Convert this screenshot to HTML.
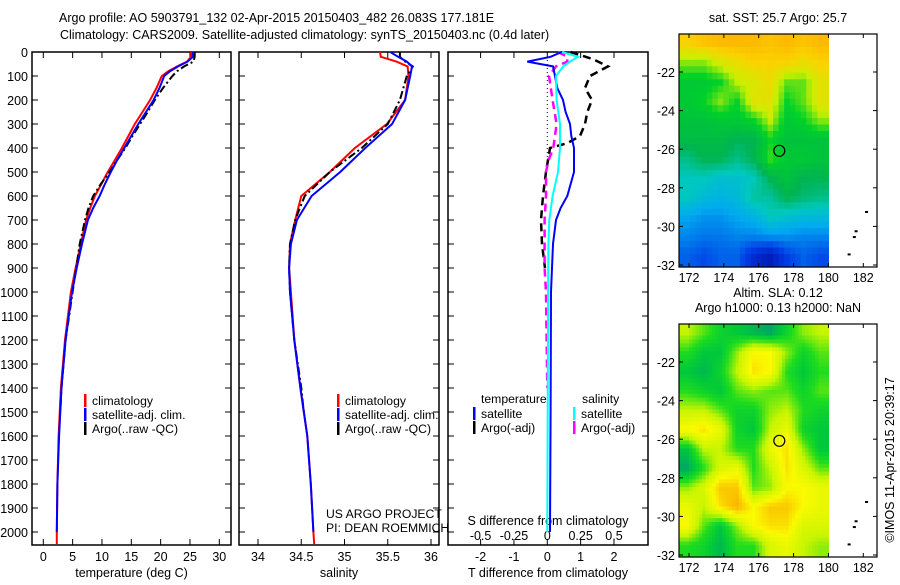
<!DOCTYPE html>
<html><head><meta charset="utf-8">
<style>
body{margin:0;background:#fff;width:900px;height:580px;overflow:hidden}
svg{font-family:"Liberation Sans",sans-serif;font-size:12.5px}
.lg{font-size:12.2px}
</style></head>
<body>
<svg id="fig" width="900" height="580" xmlns="http://www.w3.org/2000/svg">
<text x="59" y="22">Argo profile: AO 5903791_132 02-Apr-2015 20150403_482 26.083S 177.181E</text>
<text x="60" y="39">Climatology: CARS2009. Satellite-adjusted climatology: synTS_20150403.nc (0.4d later)</text>
<g id="g"></g>
</svg>
<script>
const depthTicks=[0,100,200,300,400,500,600,700,800,900,1000,1100,1200,1300,1400,1500,1600,1700,1800,1900,2000];
const tempTicks=[0,5,10,15,20,25,30];
const salTicks=[34,34.5,35,35.5,36];
const salTickLabels=["34","34.5","35","35.5","36"];
const tdTicks=[-2,-1,0,1,2];
const sdTicks=[-0.5,-0.25,0,0.25,0.5];
const sdTickLabels=["-0.5","-0.25","0","0.25","0.5"];
const tClimDepth=[0,20,40,60,80,100,150,200,250,300,350,400,450,500,550,600,650,700,800,900,1000,1200,1400,1600,1800,2000,2050];
const tClim=[25.2,25.2,24.5,22.8,21.3,20.2,19.3,18.2,16.9,15.6,14.5,13.4,12.2,11.0,9.9,8.8,8.0,7.3,6.4,5.5,4.7,3.7,3.0,2.6,2.4,2.3,2.3];
const tSatDepth=[0,20,40,60,80,100,150,200,250,300,350,400,450,500,550,600,650,700,800,900,1000,1200,1400,1600,1800,2000];
const tSat=[25.5,25.5,24.6,23.0,21.6,20.6,19.8,18.8,17.5,16.2,15.0,13.8,12.6,11.5,10.5,9.6,8.5,7.6,6.6,5.7,4.9,3.8,3.1,2.7,2.4,2.3];
const tArgoDepth=[0,20,40,60,80,100,150,200,250,300,350,400,450,500,550,600,650,700,800,900,1000,1200,1400,1500];
const tArgo=[25.8,25.8,25.6,24.0,22.8,22.0,20.4,19.0,17.8,16.5,15.2,14.0,12.6,11.3,9.8,8.5,7.7,7.1,6.2,5.6,5.0,3.8,3.1,2.9];
const sClimDepth=[0,20,40,60,100,200,300,400,500,600,700,800,900,1000,1200,1400,1600,1800,2000,2050];
const sClim=[35.41,35.42,35.6,35.73,35.74,35.7,35.49,35.12,34.83,34.5,34.43,34.37,34.36,34.38,34.42,34.49,34.57,34.61,34.64,34.65];
const sSatDepth=[0,20,40,60,100,200,300,400,500,600,700,800,900,1000,1200,1400,1600,1800,2000];
const sSat=[35.53,35.62,35.72,35.78,35.76,35.7,35.55,35.24,34.95,34.62,34.45,34.38,34.36,34.37,34.42,34.49,34.57,34.61,34.64];
const sArgoDepth=[0,20,40,60,100,200,300,400,500,600,700,800,900,1000,1200,1400,1500];
const sArgo=[35.64,35.64,35.7,35.79,35.72,35.64,35.5,35.2,34.83,34.54,34.43,34.37,34.36,34.37,34.42,34.5,34.53];
const dTSatDepth=[0,20,40,60,100,150,200,250,300,350,400,500,600,650,700,800,1000,1500,2000];
const dTSat=[0.43,0.1,-0.6,0.17,0.23,0.3,0.47,0.55,0.68,0.72,0.8,0.8,0.6,0.4,0.26,0.17,0.11,0.1,0.08];
const dTArgoDepth=[0,30,60,100,150,200,250,300,350,380,400,500,600,700,800,900];
const dTArgo=[0.7,1.37,1.82,1.28,1.13,1.34,1.2,1.13,0.98,0.6,0.08,-0.04,-0.13,-0.19,-0.16,-0.07];
const dSSatDepth=[0,20,40,60,100,200,300,400,500,600,700,800,1000,1500,2000];
const dSSat=[0.11,0.23,0.17,0.12,0.065,0.07,0.095,0.095,0.08,0.04,0.015,0.008,0.006,0.003,0];
const dSArgoDepth=[0,20,40,60,100,200,300,400,450,500,600,700,800,900,1000,1400];
const dSArgo=[0.08,0.15,0.15,0.065,0.013,0.04,0.07,0.045,0.01,-0.01,-0.01,-0.02,-0.02,-0.02,-0.01,0];
const mapLonTicks=[172,174,176,178,180,182];
const mapLatTicks=[22,24,26,28,30,32];
const sstGrid=[
[0.85,0.88,0.9,0.9,0.9,0.88,0.9,0.88,0.9],
[0.72,0.72,0.78,0.82,0.85,0.85,0.85,0.82,0.85],
[0.62,0.62,0.65,0.75,0.78,0.82,0.7,0.7,0.8],
[0.62,0.65,0.72,0.65,0.8,0.8,0.65,0.7,0.8],
[0.6,0.6,0.62,0.62,0.65,0.75,0.62,0.65,0.72],
[0.58,0.58,0.58,0.55,0.55,0.65,0.6,0.6,0.6],
[0.5,0.55,0.55,0.5,0.55,0.68,0.62,0.62,0.6],
[0.45,0.45,0.42,0.42,0.45,0.55,0.6,0.55,0.55],
[0.45,0.4,0.38,0.4,0.48,0.48,0.55,0.52,0.5],
[0.35,0.32,0.32,0.35,0.38,0.45,0.42,0.4,0.4],
[0.3,0.28,0.28,0.3,0.3,0.32,0.32,0.3,0.3],
[0.25,0.22,0.25,0.25,0.15,0.1,0.2,0.25,0.22]];
const slaGrid=[
[0.6,0.4,0.2,0.1,0.0,-0.1,0.2,0.5,0.6],
[0.3,0.1,0.1,0.5,0.9,0.9,0.5,0.2,0.4],
[0.1,0.0,0.2,0.6,1.0,0.9,0.3,0.1,0.3],
[0.3,0.2,0.1,0.4,0.5,0.4,0.4,0.2,0.4],
[0.6,0.6,0.4,0.2,0.2,0.5,0.6,0.3,0.2],
[0.9,1.0,0.8,0.2,0.1,0.6,0.8,0.2,0.1],
[0.1,0.6,0.6,0.3,0.3,0.8,1.0,0.5,0.1],
[-0.1,0.3,0.7,0.8,0.3,0.6,1.0,0.7,0.4],
[0.5,0.7,1.1,1.1,0.4,0.5,0.9,0.9,0.8],
[0.8,0.6,1.0,1.2,0.9,1.1,1.1,0.9,0.8],
[0.9,0.4,0.1,0.5,0.9,1.0,1.0,0.7,0.7],
[0.3,0.2,0.0,0.3,0.3,0.7,0.8,0.6,0.5]];
const argoLon=177.181, argoLat=26.083;

const NS="http://www.w3.org/2000/svg";
const G=document.getElementById('g');
function mk(tag,attrs,parent){const e=document.createElementNS(NS,tag);for(const k in attrs)e.setAttribute(k,attrs[k]);(parent||G).appendChild(e);return e;}
function txt(x,y,s,anchor,parent){const t=mk('text',{x:x,y:y,'text-anchor':anchor||'start'},parent);t.textContent=s;return t;}
const Y=d=>52+d*0.24;
const PB=545;
const xT=v=>43.3+v*5.867;
const xS=v=>258+(v-34)*86.5;
const xD=v=>547.3+v*33.35;
const xSD=v=>547.3+v*133.4;

function panel(name,x0,x1,xs,ticks,labels,title,showDepth){
  const r=mk('rect',{x:x0,y:52,width:x1-x0,height:PB-52,fill:'none',stroke:'#000','stroke-width':1.5});
  
  
  depthTicks.forEach(d=>{
    mk('line',{x1:x0,x2:x0+6,y1:Y(d),y2:Y(d),stroke:'#000'});
    mk('line',{x1:x1-6,x2:x1,y1:Y(d),y2:Y(d),stroke:'#000'});
    if(showDepth){const t=txt(28,Y(d)+5,String(d),'end');
      
      }
  });
  ticks.forEach((v,i)=>{
    const x=xs(v);
    mk('line',{x1:x,x2:x,y1:PB,y2:PB-6,stroke:'#000'});
    mk('line',{x1:x,x2:x,y1:52,y2:58,stroke:'#000'});
    if(labels){const t=txt(x,561,labels[i],'middle');
      
      }
  });
  if(title){const t=txt((x0+x1)/2,577,title,'middle');
    
    }
}
function line(name,depths,vals,xs,color,dash,w){
  const pts=depths.map((d,i)=>xs(vals[i]).toFixed(1)+','+Y(d).toFixed(1)).join(' ');
  const p=mk('polyline',{points:pts,fill:'none',stroke:color,'stroke-width':w||2,'stroke-dasharray':dash||'none'});
  
  
}
panel('temperature',32,231,xT,tempTicks,tempTicks.map(String),'temperature (deg C)',true);
panel('salinity',239,439,xS,salTicks,salTickLabels,'salinity',false);
panel('difference',448,648,xD,tdTicks,tdTicks.map(String),'T difference from climatology',false);
sdTicks.forEach((v,i)=>{const t=txt(xSD(v),540,sdTickLabels[i],'middle');
  
  });
{const t=txt(548,525,'S difference from climatology','middle');}

line('temp-climatology-line',tClimDepth,tClim,xT,'#f00');
line('temp-argo-line',tArgoDepth,tArgo,xT,'#000','8,3,2,3');
line('temp-satellite-line',tSatDepth,tSat,xT,'#00f');
line('sal-climatology-line',sClimDepth,sClim,xS,'#f00');
line('sal-argo-line',sArgoDepth,sArgo,xS,'#000','8,3,2,3');
line('sal-satellite-line',sSatDepth,sSat,xS,'#00f');
{const z=mk('line',{x1:xD(0),x2:xD(0),y1:52,y2:Y(500),stroke:'#000','stroke-dasharray':'1,3'});}
line('dT-argo-line',dTArgoDepth,dTArgo,xD,'#000','8,5',2.5);
line('dS-argo-line',dSArgoDepth,dSArgo,xSD,'#f0f','8,5',2.5);
line('dT-satellite-line',dTSatDepth,dTSat,xD,'#00f');
line('dS-satellite-line',dSSatDepth,dSSat,xSD,'#0ff','none',2);

function legendItem(x,y,color,label,name){
  const g=mk('g',{class:'lg'});
  
  
  mk('rect',{x:x,y:y-10,width:2.5,height:13,fill:color},g);
  txt(x+8,y+1,label,'start',g);
}
legendItem(84,404,'#f00','climatology','legend-temp-climatology');
legendItem(84,418,'#00f','satellite-adj. clim.','legend-temp-satellite');
legendItem(84,432,'#000','Argo(..raw -QC)','legend-temp-argo');
legendItem(337,404,'#f00','climatology','legend-sal-climatology');
legendItem(337,418,'#00f','satellite-adj. clim.','legend-sal-satellite');
legendItem(337,432,'#000','Argo(..raw -QC)','legend-sal-argo');
{const t=txt(481,403,'temperature');t.setAttribute('class','lg');}
{const t=txt(582,403,'salinity');t.setAttribute('class','lg');}
legendItem(473,417,'#00f','satellite','legend-dT-satellite');
legendItem(473,431,'#000','Argo(-adj)','legend-dT-argo');
legendItem(573,417,'#0ff','satellite','legend-dS-satellite');
legendItem(573,431,'#f0f','Argo(-adj)','legend-dS-argo');
{const t=txt(326,518,'US ARGO PROJECT');t.setAttribute('class','lg');}
{const t=txt(326,532,'PI: DEAN ROEMMICH');t.setAttribute('class','lg');}

function jet(v){const stops=[[0,[0,0,140]],[0.2,[0,60,230]],[0.35,[0,170,240]],[0.45,[0,200,190]],[0.55,[0,180,80]],[0.65,[0,210,40]],[0.75,[200,240,0]],[0.85,[250,210,0]],[0.95,[255,160,0]],[1,[255,120,0]]];return interp(stops,v);}
function slaC(v){const stops=[[-0.2,[0,150,120]],[0.1,[0,200,60]],[0.3,[30,220,30]],[0.6,[200,245,0]],[0.9,[250,250,0]],[1.1,[250,200,0]],[1.3,[250,160,0]]];return interp(stops,v);}
function interp(stops,v){if(v<=stops[0][0])return 'rgb('+stops[0][1]+')';for(let i=1;i<stops.length;i++){if(v<=stops[i][0]){const a=stops[i-1],b=stops[i],t=(v-a[0])/(b[0]-a[0]);return 'rgb('+a[1].map((c,k)=>Math.round(c+(b[1][k]-c)*t)).join(',')+')';}}return 'rgb('+stops[stops.length-1][1]+')';}
function sample(grid,fi,fj){
  const R=grid.length,C=grid[0].length;
  fi=Math.max(0,Math.min(R-1,fi));fj=Math.max(0,Math.min(C-1,fj));
  const i0=Math.floor(fi),j0=Math.floor(fj),i1=Math.min(R-1,i0+1),j1=Math.min(C-1,j0+1),a=fi-i0,b=fj-j0;
  return grid[i0][j0]*(1-a)*(1-b)+grid[i1][j0]*a*(1-b)+grid[i0][j1]*(1-a)*b+grid[i1][j1]*a*b;
}
function map(name,top,grid,cfn,titles,sub){
  const lonX=l=>689+(l-172)*17.43;
  const latY=l=>top+38+(l-22)*19.3;
  const bot=top+233;
  const x0=679,xe=lonX(180);
  const R=grid.length,C=grid[0].length;
  const nr=R*sub,nc=C*sub;
  const cw=(xe-x0)/nc, rh=(bot-top)/nr;
  const yTop=latY(20);
  for(let i=0;i<nr;i++)for(let j=0;j<nc;j++){
    const y=top+i*rh;
    const fi=(y+rh/2-yTop)/((latY(32)-yTop)/R)-0.5;
    const fj=(j+0.5)/sub-0.5;
    const c=mk('rect',{x:(x0+j*cw).toFixed(2),y:y.toFixed(2),width:(cw+0.6).toFixed(2),height:(rh+0.6).toFixed(2),fill:cfn(sample(grid,fi,fj))});
    
    
  }
  const r=mk('rect',{x:679,y:top,width:198,height:233,fill:'none',stroke:'#000','stroke-width':1.2});
  
  
  mapLonTicks.forEach(l=>{const x=lonX(l);mk('line',{x1:x,x2:x,y1:top,y2:top+4,stroke:'#000'});mk('line',{x1:x,x2:x,y1:bot,y2:bot-4,stroke:'#000'});
    const t=txt(x,bot+15,String(l),'middle');});
  mapLatTicks.forEach(l=>{const y=latY(l);mk('line',{x1:679,x2:683,y1:y,y2:y,stroke:'#000'});mk('line',{x1:877,x2:873,y1:y,y2:y,stroke:'#000'});
    const t=txt(675,y+5,'-'+l,'end');});
  const c=mk('circle',{cx:lonX(argoLon),cy:latY(argoLat),r:5.5,fill:'none',stroke:'#000','stroke-width':1.2});
  
  
  [[182.1,29.2],[181.5,30.2],[181.4,30.5],[181.1,31.4]].forEach(p=>mk('rect',{x:lonX(p[0]),y:latY(p[1]),width:3,height:2,fill:'#000'}));
  titles.forEach((s,i)=>{const t=txt(778,top-12-(titles.length-1-i)*15,s,'middle');});
}
map('sst-map',34,sstGrid,jet,['sat. SST: 25.7 Argo: 25.7'],3);
map('sla-map',324,slaGrid,slaC,['Altim. SLA: 0.12','Argo h1000: 0.13 h2000: NaN'],5);
{const t=txt(0,0,'©IMOS 11-Apr-2015 20:39:17','middle');t.setAttribute('transform','translate(894,460) rotate(-90)');}
</script>
</body></html>
